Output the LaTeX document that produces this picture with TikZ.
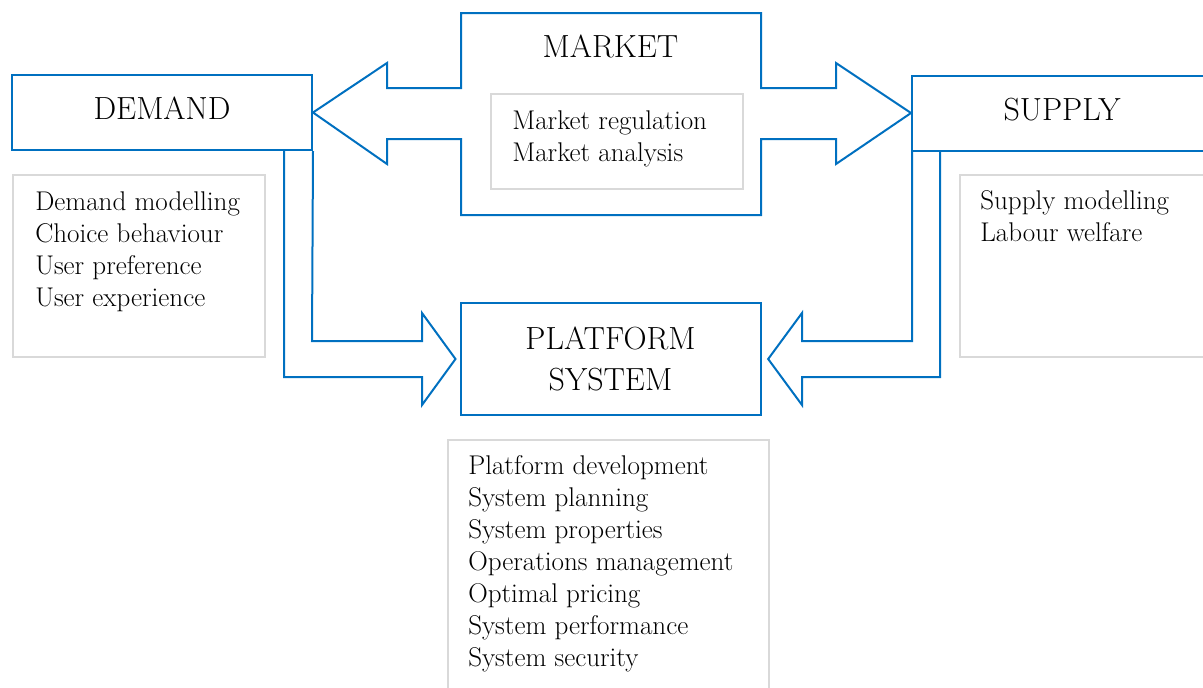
\documentclass[tikz,border=0pt]{standalone}
\definecolor{mainblue}{RGB}{0,112,192}
\definecolor{framegray}{RGB}{217,217,217}
\begin{document}
\begin{tikzpicture}[x=0.75pt,y=-0.75pt]
  \tikzset{titlebox/.style = {draw=mainblue, line width=1.5pt, minimum width=225pt, minimum height=56.25pt, inner sep=0pt, font=\fontsize{24}{30.75}\selectfont}}
  \tikzset{listbox/.style = {draw=framegray, line width=1.5pt, anchor=north west, inner sep=0pt}}
  \tikzset{listtext/.style = {anchor=north west, inner sep=0pt, align=left, font=\fontsize{20.3}{24.1}\selectfont}}
  \tikzset{blockarrow/.style = {draw=mainblue, line width=1.5pt, line join=miter}}

  \clip (0,0) rectangle (1203,687);

  % Title boxes
  \node [titlebox, text depth=6.75pt] (demand) at (162,112.5) {DEMAND};
  \node [titlebox, text depth=5.25pt] (supply) at (1062,113) {SUPPLY};
  \node [titlebox, minimum height=84pt, align=center] (platform) at (610.5,359) {PLATFORM\\SYSTEM};
  \node [inner sep=0pt, font=\fontsize{24}{30.75}\selectfont] (market) at (610.5,46.5) {MARKET};

  % Market box with its double arrow
  \draw [blockarrow] (461,13) -- (761,13) -- (761,88) -- (836,88) -- (836,63) -- (supply.west)
    -- (836,164) -- (836,139) -- (761,139) -- (761,215) -- (461,215) -- (461,139)
    -- (387,139) -- (387,164) -- (demand.east) -- (387,63) -- (387,88) -- (461,88) -- cycle;

  % Arrows down to the platform
  \draw [blockarrow] (demand.south east) -- (312,341) -- (422,341) -- (422,313)
    -- ([xshift=-3pt]platform.west) -- (422,405) -- (422,377) -- (284,377) -- (284,149.5);
  \draw [blockarrow] (912,150) -- (912,341) -- (802,341) -- (802,313)
    -- ([xshift=5pt]platform.east) -- (802,405) -- (802,377) -- (940,377) -- (940,150);

  % Lists
  \node [listbox, minimum width=189pt, minimum height=136.5pt] (demandlist) at (12,174) {};
  \node [listtext] (demandtext) at (35,191.1) {Demand modelling\\Choice behaviour\\User preference\\User experience};

  \node [listbox, minimum width=189pt, minimum height=71.25pt] (marketlist) at (490,93) {};
  \node [listtext] (markettext) at (512,110.1) {Market regulation\\Market analysis};

  \node [listbox, minimum width=225pt, minimum height=136.5pt] (supplylist) at (959,174) {};
  \node [listtext] (supplytext) at (980,190.6) {Supply modelling\\Labour welfare};

  \node [listbox, minimum width=240.75pt, minimum height=225pt] (platformlist) at (447,439) {};
  \node [listtext] (platformtext) at (468,454.8) {Platform development\\System planning\\System properties\\Operations management\\Optimal pricing\\System performance\\System security};
\end{tikzpicture}
\end{document}
